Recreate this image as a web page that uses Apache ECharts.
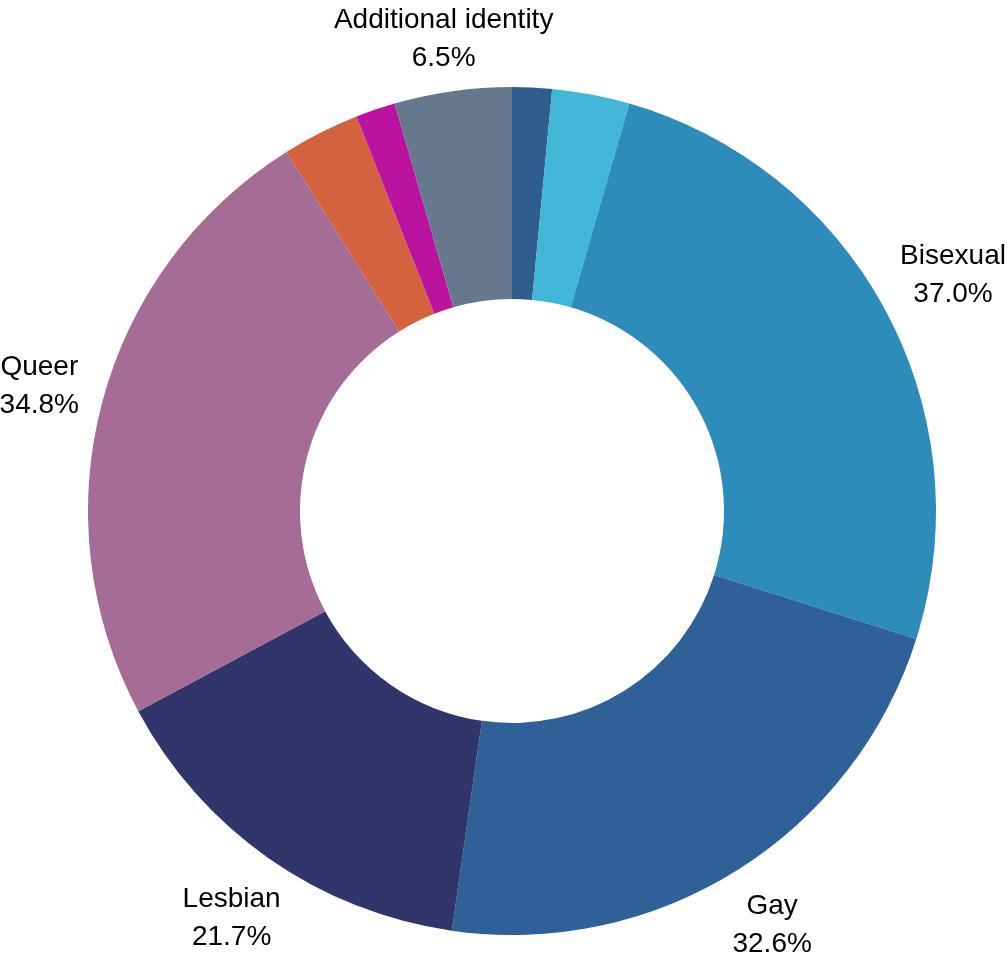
<!DOCTYPE html>
<html>
<head>
<meta charset="utf-8">
<script src="https://cdn.jsdelivr.net/npm/echarts@6/dist/echarts.min.js"></script>
<style>
html,body{margin:0;padding:0;background:#fff;}
#chart{width:1008px;height:957px;}
</style>
</head>
<body>
<div id="chart"></div>
<script>
// Data (values in %; slices clockwise from 12 o'clock)
const categories = ['Unlabeled A', 'Unlabeled B', 'Bisexual', 'Gay', 'Lesbian', 'Queer', 'Unlabeled C', 'Unlabeled D', 'Additional identity'];
const values = [2.2, 4.3, 37.0, 32.6, 21.7, 34.8, 4.3, 2.2, 6.5];
const labelled = [false, false, true, true, true, true, false, false, true];
const palette = ['#2f5d8e', '#41b6d6', '#2e8cba', '#2f6098', '#31356b', '#a56c95', '#d4623e', '#bb12a0', '#66788b'];
// small per-label nudges so each label hugs the ring like the reference
const nudgeX = [0, 0, 10, 0, 0, 0, 0, 0, 0];
const nudgeY = [0, 0, -5, 0, 7, 0, 0, 0, 12];

const chart = echarts.init(document.getElementById('chart'), null, {renderer: 'canvas'});

const sliceData = categories.map((name, i) => ({
  name: name,
  value: values[i],
  itemStyle: {color: palette[i]}
}));

const labelData = categories.map((name, i) => ({
  name: name,
  value: values[i],
  label: {show: labelled[i]}
}));

chart.setOption({
  animation: false,
  backgroundColor: '#ffffff',
  series: [
    {
      type: 'pie',
      center: [512, 511],
      radius: [212, 424],
      startAngle: 90,
      clockwise: true,
      avoidLabelOverlap: false,
      silent: true,
      label: {show: false},
      labelLine: {show: false},
      itemStyle: {borderWidth: 0},
      emphasis: {disabled: true},
      data: sliceData
    },
    {
      type: 'pie',
      center: [512, 511],
      radius: [466, 506],
      startAngle: 90,
      clockwise: true,
      avoidLabelOverlap: false,
      silent: true,
      itemStyle: {color: 'rgba(0,0,0,0)', borderWidth: 0},
      emphasis: {disabled: true},
      labelLine: {show: false},
      label: {
        show: true,
        position: 'inside',
        rotate: 0,
        color: '#000000',
        fontFamily: '"Liberation Sans", Arial, sans-serif',
        fontSize: 28,
        lineHeight: 38,
        align: 'center',
        formatter: p => p.name + '\n' + p.value.toFixed(1) + '%'
      },
      labelLayout: p => ({dx: nudgeX[p.dataIndex], dy: nudgeY[p.dataIndex]}),
      data: labelData
    }
  ]
});
</script>
</body>
</html>
